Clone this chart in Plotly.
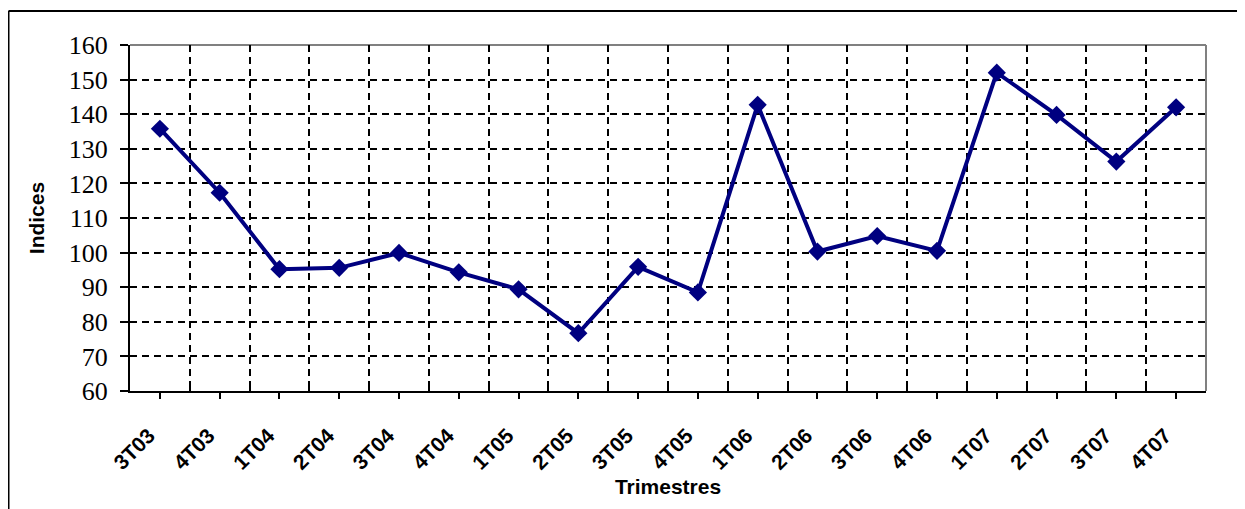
import plotly.graph_objects as go

# quarterly index values
trimestres = ["3T03", "4T03", "1T04", "2T04", "3T04", "4T04", "1T05", "2T05", "3T05",
              "4T05", "1T06", "2T06", "3T06", "4T06", "1T07", "2T07", "3T07", "4T07"]
indices = [135.8, 117.3, 95.2, 95.6, 99.9, 94.3, 89.4, 76.7, 95.9,
           88.5, 142.7, 100.3, 104.8, 100.5, 152.0, 139.8, 126.3, 142.0]
y_ticks = [60, 70, 80, 90, 100, 110, 120, 130, 140, 150, 160]

pos = list(range(len(trimestres)))
bounds = [p + 0.5 for p in pos[:-1]]

fig = go.Figure()
fig.add_trace(go.Scatter(
    x=pos, y=indices, mode="lines+markers",
    line=dict(color="#000080", width=4),
    marker=dict(symbol="diamond", size=14, color="#000080"),
    showlegend=False,
))

# page body adds an 8px offset, so the figure is laid out 8px smaller
W, H = 1237, 501
L, R, T, B = 122, 39, 37, 118
pw, ph = W - L - R, H - T - B
fx = (0.5 - L) / pw
fy = (H - B - 3) / ph

bold = dict(family="Liberation Sans, Arial", size=21, color="black", weight="bold")

fig.update_layout(
    width=W, height=H,
    margin=dict(l=L, r=R, t=T, b=B),
    paper_bgcolor="white", plot_bgcolor="white",
    xaxis=dict(
        range=[-0.5, len(pos) - 0.5],
        tickvals=pos, ticktext=trimestres, tickangle=-45,
        tickfont=bold,
        ticks="outside", ticklen=6, tickwidth=2, tickcolor="black",
        ticklabelstandoff=16, ticklabelshift=-11,
        showline=True, linecolor="black", linewidth=2,
        showgrid=False, zeroline=False,
        minor=dict(tickvals=bounds, ticks="inside", ticklen=6, tickwidth=2, tickcolor="black",
                   showgrid=True, gridcolor="black", gridwidth=2, griddash="7px,5px"),
        title=dict(text="Trimestres", standoff=6, font=bold),
    ),
    yaxis=dict(
        range=[60, 160], tickvals=y_ticks,
        tickfont=dict(family="Liberation Serif, Times New Roman, serif", size=26, color="black"),
        ticks="outside", ticklen=8, tickwidth=2, tickcolor="black",
        ticklabelstandoff=7,
        showline=True, linecolor="black", linewidth=2,
        showgrid=True, gridcolor="black", gridwidth=2, griddash="7px,5px",
        zeroline=False,
        title=dict(text="Indices", standoff=18, font=bold),
    ),
    shapes=[
        dict(type="line", xref="paper", yref="paper", x0=0, x1=1, y0=1, y1=1,
             line=dict(color="#808080", width=2), layer="below"),
        dict(type="line", xref="paper", yref="paper", x0=1, x1=1, y0=0, y1=1,
             line=dict(color="#808080", width=2), layer="below"),
        dict(type="line", xref="paper", yref="paper", x0=fx, x1=fx, y0=-1, y1=fy,
             line=dict(color="black", width=2)),
        dict(type="line", xref="paper", yref="paper", x0=fx, x1=1.2, y0=fy, y1=fy,
             line=dict(color="black", width=2)),
    ],
)

fig.write_html("out.html")
